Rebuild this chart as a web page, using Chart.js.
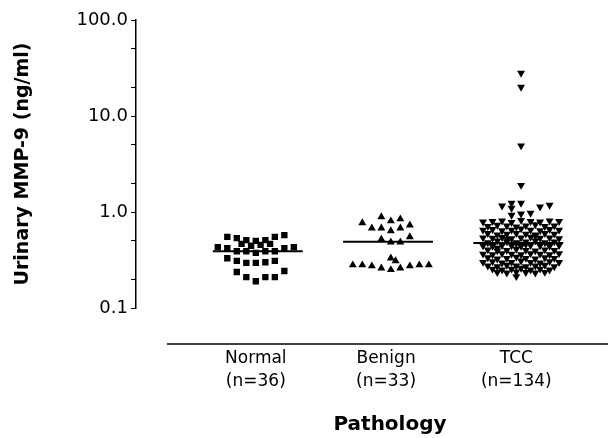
<!DOCTYPE html>
<html>
<head>
<meta charset="utf-8">
<script src="https://cdn.jsdelivr.net/npm/chart.js@4.4.1/dist/chart.umd.min.js"></script>
<style>
  html, body { margin: 0; padding: 0; background: #fff; }
  #chart { display: block; }
</style>
</head>
<body>
<canvas id="chart" width="610" height="438"></canvas>
<script>
// categories and their group sizes
const categories  = ['Normal', 'Benign', 'TCC'];
const groupCounts = ['(n=36)', '(n=33)', '(n=134)'];
const medians     = [0.39, 0.49, 0.475];

// y axis ticks (ng/ml)
const yMajorTicks = [0.1, 1, 10, 100];
const yMinorTicks = [0.2, 0.5, 2, 5, 20, 50];

// Normal: column slot (horizontal spread) and value
const normalSlots = [
  -3, -2, -1, 0, 1, 2, 3,
  -1.5, -0.5, 0.5, 1.5,
  -4, -3, -2, -1, 0, 1, 2, 3, 4,
  -3, -2, -1, 0, 1, 2,
  -2, -1, 0, 1, 2, 3
];
const normalValues = [
  0.55, 0.535, 0.51, 0.50, 0.51, 0.55, 0.575,
  0.465, 0.445, 0.455, 0.465,
  0.43, 0.42, 0.39, 0.39, 0.375, 0.39, 0.39, 0.42, 0.43,
  0.33, 0.31, 0.295, 0.295, 0.30, 0.31,
  0.237, 0.21, 0.19, 0.21, 0.21, 0.243
];

// Benign
const benignSlots = [
  -2.5, -1.5, -0.5, -0.5, 0.5, 0.5, 1.5, 1.5, 2.5, 2.5,
  -0.5, 0.5, 1.5,
  -3.5, -2.5, -1.5, -0.5, 0.5, 1, 0.5, 1.5, 2.5, 3.5, 4.5
];
const benignValues = [
  0.77, 0.68, 0.89, 0.68, 0.805, 0.635, 0.845, 0.68, 0.73, 0.55,
  0.52, 0.485, 0.485,
  0.28, 0.28, 0.274, 0.26, 0.33, 0.31, 0.25, 0.26, 0.274, 0.28, 0.28
];

// TCC
const tccSlots = [
  0.5, 0.5, 0.5, 0.5,
  -1.5, -0.5, -0.5, 0.5, -0.5, 0.5, 1.5, 2.5, 3.5,
  -3.5, -2.5, -1.5, -0.5, 0.5, 1.5, 2.5, 3.5, 4.5,
  -3, -2, -1, 0, 1, 2, 3, 4,
  -3.5, -2.5, -1.5, -0.5, 0.5, 1.5, 2.5, 3.5, 4.5,
  -3, -2, -1, 0, 1, 2, 3, 4,
  -3.5, -2.5, -1.5, -0.5, 0.5, 1.5, 2.5, 3.5, 4.5,
  -3, -2, -1, 0, 1, 2, 3, 4,
  -3.5, -2.5, -1.5, -0.5, 0.5, 1.5, 2.5, 3.5, 4.5,
  -3, -2, -1, 0, 1, 2, 3, 4,
  -3.5, -2.5, -1.5, -0.5, 0.5, 1.5, 2.5, 3.5, 4.5,
  -3, -2, -1, 0, 1, 2, 3, 4,
  -3.5, -2.5, -1.5, -0.5, 0.5, 1.5, 2.5, 3.5, 4.5,
  -3, -2, -1, 0, 1, 2, 3, 4,
  -2.5, -1.5, -0.5, 0.5, 1.5, 2.5, 3.5,
  -2, -1, 0, 1, 2, 3,
  0,
  0, 1, -1, 2, -2
];
const tccValues = [
  28, 20, 4.9, 1.9,
  1.16, 1.24, 1.10, 1.24, 0.93, 0.955, 0.975, 1.13, 1.18,
  0.79, 0.80, 0.81, 0.78, 0.82, 0.80, 0.79, 0.81, 0.80,
  0.71, 0.73, 0.72, 0.70, 0.72, 0.74, 0.71, 0.72,
  0.65, 0.66, 0.64, 0.65, 0.67, 0.65, 0.64, 0.66, 0.65,
  0.60, 0.58, 0.59, 0.60, 0.59, 0.58, 0.60, 0.59,
  0.54, 0.535, 0.545, 0.53, 0.54, 0.55, 0.535, 0.54, 0.53,
  0.48, 0.50, 0.49, 0.48, 0.49, 0.50, 0.48, 0.49,
  0.445, 0.44, 0.45, 0.445, 0.44, 0.45, 0.445, 0.44, 0.45,
  0.405, 0.395, 0.40, 0.41, 0.40, 0.395, 0.405, 0.40,
  0.365, 0.36, 0.37, 0.365, 0.36, 0.37, 0.365, 0.36, 0.37,
  0.335, 0.325, 0.33, 0.34, 0.33, 0.325, 0.335, 0.33,
  0.30, 0.305, 0.295, 0.30, 0.31, 0.30, 0.295, 0.305, 0.30,
  0.275, 0.27, 0.28, 0.275, 0.27, 0.275, 0.28, 0.27,
  0.255, 0.25, 0.255, 0.26, 0.25, 0.255, 0.25,
  0.235, 0.232, 0.238, 0.235, 0.232, 0.236,
  0.213,
  0.47, 0.46, 0.52, 0.56, 0.42
];

const SLOT_STEP = 0.073;   // width of one dot column, in category units
const BLACK = '#000';
const FONT = '"DejaVu Sans", "Liberation Sans", Arial, sans-serif';

function points(center, slots, values) {
  return values.map((v, i) => ({ x: center + slots[i] * SLOT_STEP, y: v }));
}

function medianLine(center, m) {
  return {
    type: 'line',
    data: [{ x: center - 0.33, y: m }, { x: center + 0.36, y: m }],
    borderColor: BLACK,
    borderWidth: 2,
    pointRadius: 0,
    fill: false
  };
}

// axis line under the plot and the x title, as in the original figure
const bottomAxis = {
  id: 'bottomAxis',
  afterDraw(chart) {
    const c = chart.ctx;
    const y = chart.chartArea.bottom + 36;
    c.save();
    c.strokeStyle = BLACK;
    c.lineWidth = 1.5;
    c.beginPath();
    c.moveTo(167, y);
    c.lineTo(608, y);
    c.stroke();
    c.fillStyle = BLACK;
    c.font = 'bold 20px ' + FONT;
    c.textAlign = 'center';
    c.textBaseline = 'middle';
    c.fillText('Pathology', 390, 425);
    c.restore();
  }
};

new Chart(document.getElementById('chart'), {
  type: 'scatter',
  data: {
    datasets: [
      {
        label: categories[0],
        data: points(1, normalSlots, normalValues),
        pointStyle: 'rect',
        pointRadius: 4.5,
        backgroundColor: BLACK,
        borderColor: BLACK,
        borderWidth: 0
      },
      {
        label: categories[1],
        data: points(2, benignSlots, benignValues),
        pointStyle: 'triangle',
        pointRadius: 4.6,
        backgroundColor: BLACK,
        borderColor: BLACK,
        borderWidth: 0
      },
      {
        label: categories[2],
        data: points(3, tccSlots, tccValues),
        pointStyle: 'triangle',
        rotation: 180,
        pointRadius: 4.6,
        backgroundColor: BLACK,
        borderColor: BLACK,
        borderWidth: 0
      },
      medianLine(1, medians[0]),
      medianLine(2, medians[1]),
      medianLine(3, medians[2])
    ]
  },
  options: {
    responsive: false,
    animation: false,
    layout: { padding: { top: 20, right: 0, bottom: 0, left: 0 } },
    plugins: {
      legend: { display: false },
      tooltip: { enabled: false }
    },
    scales: {
      x: {
        type: 'linear',
        min: 0.08,
        max: 3.684,
        grid: { display: false, drawTicks: false },
        border: { display: false },
        afterBuildTicks: s => { s.ticks = categories.map((_, i) => ({ value: i + 1 })); },
        afterFit: s => { s.height = 130; },
        ticks: {
          autoSkip: false,
          maxRotation: 0,
          padding: 40,
          color: BLACK,
          font: { family: FONT, size: 17, lineHeight: 1.3 },
          callback: v => {
            const i = Math.round(v) - 1;
            return [categories[i], groupCounts[i]];
          }
        }
      },
      y: {
        type: 'logarithmic',
        min: 0.1,
        max: 100,
        afterBuildTicks: s => {
          s.ticks = yMajorTicks.concat(yMinorTicks).sort((a, b) => a - b).map(v => ({ value: v }));
        },
        afterFit: s => { s.width = 136; },
        grid: {
          drawOnChartArea: false,
          drawTicks: true,
          tickLength: 5,
          color: BLACK
        },
        border: { display: true, color: BLACK, width: 1.5 },
        ticks: {
          padding: 3,
          color: BLACK,
          font: { family: FONT, size: 18 },
          callback: v => yMajorTicks.includes(v) ? v.toFixed(1) : ''
        },
        title: {
          display: true,
          text: 'Urinary MMP-9 (ng/ml)',
          color: BLACK,
          padding: { top: 12, bottom: 0 },
          font: { family: FONT, size: 19, weight: 'bold', lineHeight: 1.2 }
        }
      }
    }
  },
  plugins: [bottomAxis]
});
</script>
</body>
</html>
